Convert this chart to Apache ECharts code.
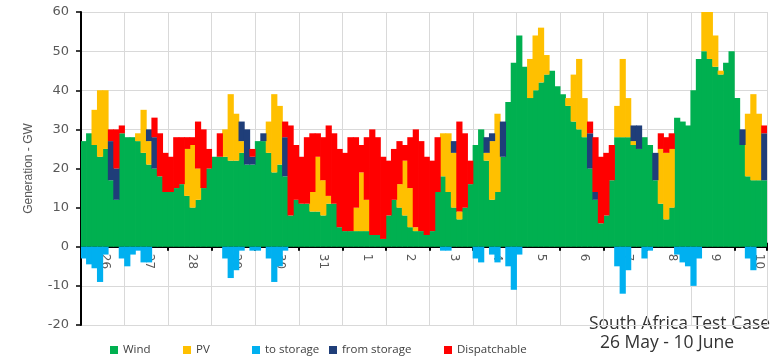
<!DOCTYPE html>
<html><head><meta charset="utf-8">
<script src="https://cdn.jsdelivr.net/npm/echarts@6/dist/echarts.min.js"></script>
<style>html,body{margin:0;padding:0;background:#fff}#c{width:779px;height:360px}</style>
</head><body><div id="c"></div>
<script>
// 3-hour bins, 8 per day, starting 26 May 00:00
const dayLabels = ['26','27','28','29','30','31','1','2','3','4','5','6','7','8','9','10'];
const binsPerDay = 8;

const wind = [
  27,29,26,23,25,17,12,29,
  28,28,27,24,21,20,18,14,
  14,15,16,13,10,12,15,20,
  23,23,23,22,22,24,21,21,
  27,27,24,19,21,18,8,12,
  11,11,9,9,8,11,11,5,
  4,4,4,4,4,3,3,2,
  8,12,10,8,5,4,4,3,
  4,14,18,14,10,7,10,16,
  26,30,22,12,14,23,37,47,
  54,46,38,40,42,44,45,41,
  39,36,32,30,28,20,12,6,
  8,17,28,28,28,26,25,28,
  26,17,11,7,10,33,32,31,
  40,48,50,48,46,44,47,50,
  38,26,18,17,17,17
];
const pv = [
  0,0,9,17,15,0,0,0,
  0,0,2,11,6,0,0,0,
  0,0,0,12,16,8,0,0,
  0,0,7,17,12,3,0,0,
  0,0,8,20,15,0,0,0,
  0,0,5,14,9,2,0,0,
  0,0,6,15,8,0,0,0,
  0,0,6,14,10,1,0,0,
  0,0,11,15,14,2,0,0,
  0,0,2,15,20,0,0,0,
  0,0,10,14,14,5,0,0,
  0,2,12,18,10,0,0,0,
  0,0,8,20,10,1,0,0,
  0,0,14,17,15,0,0,0,
  0,0,10,12,8,1,0,0,
  0,0,16,22,17,0
];
const toStorage = [
  -3,-4.5,-5.5,-9,-2,0,0,-3,
  -5,-2,-1,-4,-4,0,0,0,
  0,0,0,0,0,0,0,0,
  0,0,-3,-8,-6,-1,0,-1,
  -1,0,-3,-9,-5,-1,0,0,
  0,0,0,0,0,0,0,0,
  0,0,0,0,0,0,0,0,
  0,0,0,0,0,0,0,0,
  0,0,-1,-1,0,0,0,0,
  -3,-4,0,-2,-4,0,-5,-11,
  -2,0,0,0,0,0,0,0,
  0,0,0,0,0,0,0,0,
  0,0,-5,-12,-6,0,0,-3,
  -1,0,0,0,0,-2,-4,-5,
  -10,-3,0,0,0,0,0,0,
  0,0,-3,-6,0,0
];
const fromStorage = [
  0,0,0,0,0,10,8,0,
  0,0,0,0,3,8,0,0,
  0,0,0,0,0,0,0,0,
  0,0,0,0,0,5,9,2,
  0,2,0,0,0,10,0,0,
  0,0,0,0,0,0,0,0,
  0,0,0,0,0,0,0,0,
  0,0,0,0,0,0,0,0,
  0,0,0,0,3,0,0,0,
  0,0,4,2,0,9,0,0,
  0,0,0,0,0,0,0,0,
  0,0,0,0,0,9,2,0,
  0,0,0,0,0,4,6,0,
  0,7,0,0,0,0,0,0,
  0,0,0,0,0,0,0,0,
  0,4,0,0,0,12
];
const dispatchable = [
  0,0,0,0,0,3,10,2,
  0,0,0,0,0,5,11,10,
  9,13,12,3,2,12,15,5,
  0,6,0,0,0,0,0,2,
  0,0,0,0,0,4,23,14,
  12,17,15,6,11,18,18,20,
  20,24,18,7,16,27,25,21,
  14,13,11,4,13,25,23,20,
  18,14,0,0,0,23,19,6,
  0,0,0,0,0,0,0,0,
  0,0,0,0,0,0,0,0,
  0,0,0,0,0,3,14,17,
  16,9,0,0,0,0,0,0,
  0,0,4,4,4,0,0,0,
  0,0,0,0,0,0,0,0,
  0,0,0,0,0,2
];

const colors = {Wind:'#00B050', PV:'#FFC000', 'to storage':'#00B0F0', 'from storage':'#1F3E79', Dispatchable:'#FF0000'};
const cats = wind.map((_, i) => String(i));
const clean = arr => arr.map(v => v === 0 ? '-' : v);
function barSeries(name, data, stack) {
  return {
    type:'bar', name, stack, data: clean(data), barWidth:6.2,
    itemStyle:{color:colors[name]},
    emphasis:{disabled:true}, animation:false
  };
}
const yMin = -20, yMax = 60;
const gridTop = 12, gridBottom = 35, H = 360;
const plotH = H - gridTop - gridBottom;
const zeroOffset = -plotH * (0 - yMin) / (yMax - yMin);
const axisFont = 'DejaVu Sans';
const chart = echarts.init(document.getElementById('c'), null, {renderer:'canvas'});
const legendItem = (name, left) => ({
  data:[name], left, top:339, itemWidth:8, itemHeight:8, icon:'rect', itemGap:0,
  textStyle:{fontFamily:'Open Sans', fontSize:11.5, color:'#404040'}, selectedMode:false
});
const dayTick = (i) => i % binsPerDay === 0;
chart.setOption({
  animation:false,
  grid:{left:81, right:12, top:gridTop, bottom:gridBottom, containLabel:false},
  legend:[
    legendItem('Wind',105), legendItem('PV',178), legendItem('to storage',247),
    legendItem('from storage',324), legendItem('Dispatchable',439)
  ],
  xAxis:[{
    type:'category', data:cats, boundaryGap:true, position:'bottom', offset:zeroOffset,
    axisLine:{onZero:false, lineStyle:{color:'#000', width:2}},
    axisTick:{show:true, interval:dayTick, length:4, lineStyle:{color:'#000', width:2}},
    splitLine:{show:true, interval:dayTick, lineStyle:{color:'#D9D9D9', width:1}},
    axisLabel:{interval:(i)=> i % binsPerDay === 4, rotate:-90, margin:7,
      formatter:(v, i)=> dayLabels[Math.floor(i / binsPerDay)],
      fontFamily:axisFont, fontSize:12, color:'#595959', padding:[5,0,0,0]}
  },{
    type:'category', data:cats, boundaryGap:true, position:'bottom', offset:zeroOffset,
    axisLine:{show:false, onZero:false},
    axisTick:{show:true, inside:true, interval:dayTick, length:4, lineStyle:{color:'#000', width:2}},
    axisLabel:{show:false}, splitLine:{show:false}
  }],
  yAxis:{
    type:'value', min:yMin, max:yMax, interval:10,
    name:'Generation - GW', nameLocation:'middle', nameGap:46, nameRotate:90,
    nameTextStyle:{fontFamily:'Liberation Sans', fontSize:12, color:'#595959'},
    axisLine:{show:true, onZero:false, lineStyle:{color:'#000', width:2}},
    axisTick:{show:true, length:5, lineStyle:{color:'#000', width:1.5}},
    axisLabel:{fontFamily:axisFont, fontSize:13, color:'#595959', margin:12},
    splitLine:{show:true, lineStyle:{color:'#D9D9D9', width:1}}
  },
  series:[
    barSeries('Wind', wind, 'pos'),
    barSeries('PV', pv, 'pos'),
    barSeries('from storage', fromStorage, 'pos'),
    barSeries('Dispatchable', dispatchable, 'pos'),
    barSeries('to storage', toStorage, 'pos')
  ],
  graphic:[
    {type:'text', left:589, top:315, style:{text:'South Africa Test Case', font:'17.5px "Open Sans"', fill:'#333'}},
    {type:'text', left:600, top:334, style:{text:'26 May - 10 June', font:'17.5px "Open Sans"', fill:'#333'}}
  ]
});
</script></body></html>
